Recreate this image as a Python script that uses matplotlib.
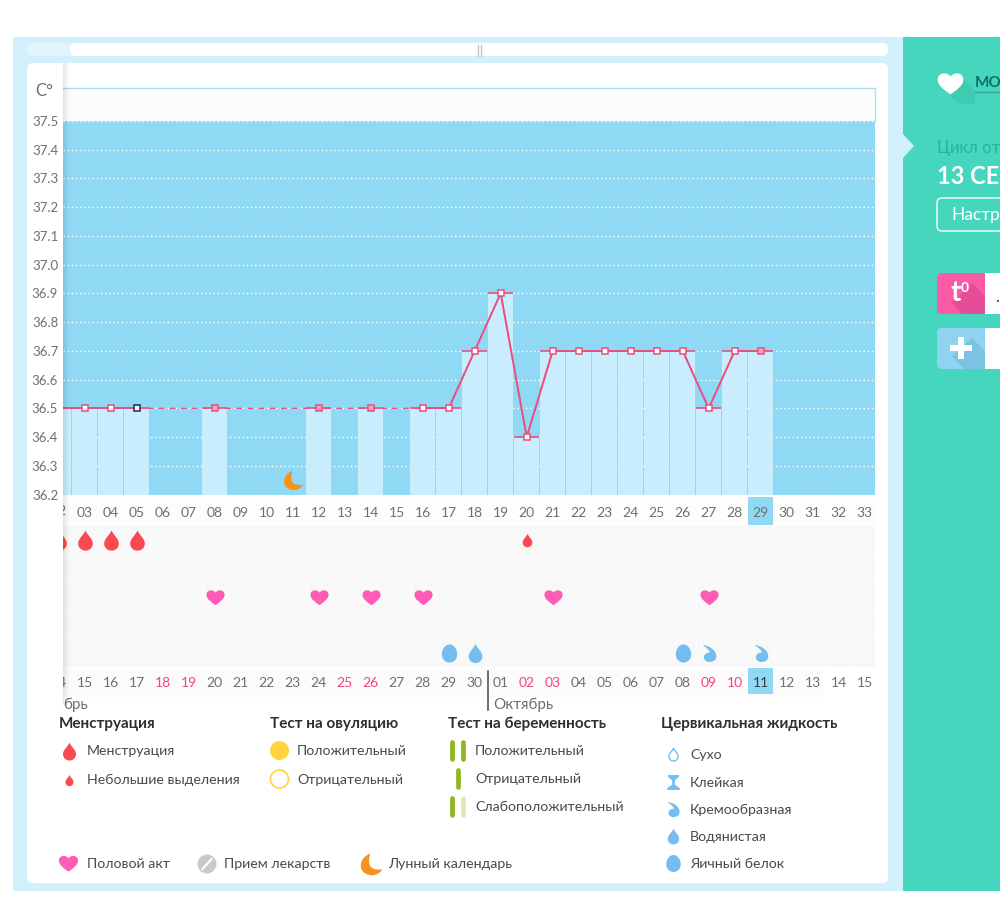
import matplotlib
matplotlib.use("Agg")
import numpy as np
import matplotlib.pyplot as plt
from matplotlib.patches import Rectangle, FancyBboxPatch, Circle, Polygon
from matplotlib.path import Path

plt.rcParams['font.family'] = ['Lato', 'DejaVu Sans']

### DATA
temp_days = [2, 3, 4, 5, 8, 12, 14, 16, 17, 18, 19, 20, 21, 22, 23, 24, 25, 26, 27, 28, 29]
temps = [36.5, 36.5, 36.5, 36.5, 36.5, 36.5, 36.5, 36.5, 36.5, 36.7, 36.9, 36.4,
         36.7, 36.7, 36.7, 36.7, 36.7, 36.7, 36.5, 36.7, 36.7]
black_day = 5
filled_days = [8, 12, 14, 29]
moon_day = 11
moon_temp = 36.25
temp_ticks = [37.5, 37.4, 37.3, 37.2, 37.1, 37.0, 36.9, 36.8, 36.7, 36.6, 36.5, 36.4, 36.3, 36.2]

cycle_days = list(range(2, 34))
dates = ["14", "15", "16", "17", "18", "19", "20", "21", "22", "23", "24", "25", "26", "27", "28",
         "29", "30", "01", "02", "03", "04", "05", "06", "07", "08", "09", "10", "11", "12", "13", "14", "15"]
weekend_dates = [4, 5, 11, 12, 18, 19, 25, 26]  # index into dates, always pink in the strip
today_day = 29
month_break = 18.5

menses_days = [2, 3, 4, 5]
spotting_days = [20]
heart_days = [8, 12, 14, 16, 21, 27]
egg_days = [17, 26]
watery_days = [18]
creamy_days = [27, 29]

BLUE_BG = "#8fd9f5"
BAR = "#c9edfc"
FRAME = "#d2effc"
TEAL = "#45d6bd"
PINK = "#e9507f"
GRAY = "#6f6f6f"
DARK = "#3a3a3a"
RED = "#fb4a4f"
HEART = "#ff5cb6"
DROPBLUE = "#74bdf0"
ORANGE = "#f6931e"
GREEN = "#8fb81f"


### MARKER SHAPES
def make_drop():
    return Path([(0, 1), (0.15, 0.55), (0.72, 0.2), (0.72, -0.3), (0.72, -0.75), (0.35, -1), (0, -1),
                 (-0.35, -1), (-0.72, -0.75), (-0.72, -0.3), (-0.72, 0.2), (-0.15, 0.55), (0, 1)],
                [Path.MOVETO] + [Path.CURVE4] * 12)


def make_heart():
    return Path([(0, -0.85), (-0.5, -0.5), (-1, -0.15), (-1, 0.3), (-1, 0.85), (-0.3, 0.95), (0, 0.55),
                 (0.3, 0.95), (1, 0.85), (1, 0.3), (1, -0.15), (0.5, -0.5), (0, -0.85)],
                [Path.MOVETO] + [Path.CURVE4] * 12)


def make_egg():
    return Path([(0, 1), (0.5, 1), (0.85, 0.45), (0.85, -0.1), (0.85, -0.65), (0.45, -1), (0, -1),
                 (-0.45, -1), (-0.85, -0.65), (-0.85, -0.1), (-0.85, 0.45), (-0.5, 1), (0, 1)],
                [Path.MOVETO] + [Path.CURVE4] * 12)


def make_creamy():
    return Path([(-0.8, 1), (-0.2, 0.95), (0.8, 0.5), (0.8, -0.35), (0.8, -0.8), (0.4, -1), (0, -1),
                 (-0.45, -1), (-0.7, -0.7), (-0.65, -0.35), (-0.6, 0), (-0.2, 0.1), (0.05, 0.1),
                 (0, 0.4), (-0.4, 0.7), (-0.8, 1)],
                [Path.MOVETO] + [Path.CURVE4] * 15)


def make_moon():
    return Path([(-0.1, 1), (-0.75, 0.8), (-1, 0.3), (-1, -0.1), (-1, -0.7), (-0.45, -1), (0.05, -1),
                 (0.5, -1), (0.85, -0.75), (1, -0.45), (0.2, -0.55), (-0.55, -0.35), (-0.1, 1)],
                [Path.MOVETO] + [Path.CURVE4] * 12)


def make_sticky():
    return Path([(-0.75, 1), (0.75, 1), (0.75, 0.75), (0.18, 0.3), (0.18, -0.3), (0.85, -0.75), (0.85, -1),
                 (-0.85, -1), (-0.85, -0.75), (-0.18, -0.3), (-0.18, 0.3), (-0.75, 0.75), (-0.75, 1)])


DROP, HEARTM, EGG, CREAMY, MOON, STICKY = (make_drop(), make_heart(), make_egg(),
                                           make_creamy(), make_moon(), make_sticky())

W, H = 1000, 915
fig = plt.figure(figsize=(W / 100, H / 100), dpi=100, facecolor="white")


def px_axes(x0, y0, x1, y1, z):
    # axes placed with pixel edges, y counted from the top of the picture
    a = fig.add_axes([x0 / W, 1 - y1 / H, (x1 - x0) / W, (y1 - y0) / H], zorder=z)
    a.patch.set_visible(False)
    return a


### PAGE BACKGROUND, CARD, SIDE PANEL
bg = px_axes(0, 0, W, H, 0)
bg.set_xlim(0, W)
bg.set_ylim(H, 0)
bg.axis("off")
bg.autoscale(False)
bg.add_patch(Rectangle((13, 37), 890, 854, fc=FRAME, ec="none"))
bg.add_patch(Rectangle((903, 37), 97, 854, fc=TEAL, ec="none"))
bg.add_patch(FancyBboxPatch((30, 46), 855, 7, boxstyle="round,pad=3,rounding_size=6", fc="#e2f5fd", ec="none"))
bg.add_patch(FancyBboxPatch((73, 46), 812, 7, boxstyle="round,pad=3,rounding_size=6", fc="white", ec="none"))
bg.plot([477.5, 477.5], [45, 56], color="#c4c4c4", lw=1)
bg.plot([480.5, 480.5], [45, 56], color="#c4c4c4", lw=1)
bg.add_patch(FancyBboxPatch((30, 66), 855, 814, boxstyle="round,pad=3,rounding_size=6", fc="white", ec="none"))
bg.add_patch(Rectangle((63, 88), 812, 33, fc="#fdfcfc", ec="none"))
bg.plot([63, 875], [88, 88], color="#a9e3ea", lw=1)
bg.plot([875, 875], [88, 121], color="#a9e3ea", lw=1)
bg.add_patch(Rectangle((63, 497), 812, 28, fc="#fdfdfd", ec="none"))
bg.add_patch(Rectangle((63, 668), 760, 29, fc="#fbfbfb", ec="none"))
bg.text(44, 91, "C°", fontsize=12, color=GRAY, ha="center", va="center")

# side panel
bg.add_patch(Polygon([[903, 134], [914, 146], [903, 158]], fc=FRAME, ec="none"))
bg.add_patch(Polygon([[950, 96], [962, 78], [975, 92], [975, 104], [960, 104]], fc="#3fcab2", ec="none"))
bg.scatter([950], [83], s=340, marker=HEARTM, color="white", linewidths=0, zorder=3)
bg.text(975, 83, "МО", fontsize=11, color="#0d6f66", fontweight="bold", va="center")
bg.plot([975, 1000], [92, 92], color="#2aa595", lw=1)
bg.text(937, 148, "Цикл от", fontsize=12, color="#2bb0a0", va="center")
bg.text(937, 176, "13 СЕ", fontsize=17, color="white", fontweight="bold", va="center")
bg.add_patch(FancyBboxPatch((940, 201), 70, 27, boxstyle="round,pad=3,rounding_size=5", fc="none", ec="white", lw=1))
bg.text(951, 215, "Настр", fontsize=12.5, color="white", va="center")

bg.add_patch(FancyBboxPatch((940, 276), 70, 35, boxstyle="round,pad=3,rounding_size=5", fc="#fb5aa5", ec="none"))
bg.add_patch(Polygon([[952, 303], [972, 283], [985, 296], [985, 314], [962, 314]], fc="#e44e98", ec="none"))
bg.add_patch(Rectangle((985, 273), 15, 41, fc="white", ec="none"))
bg.text(961, 293, "t", fontsize=20, color="white", fontweight="bold", ha="right", va="center")
bg.text(961, 288, "0", fontsize=10, color="white", fontweight="bold", ha="left", va="center")
bg.text(997, 297, ".", fontsize=12, color=DARK, ha="center", va="center")

bg.add_patch(FancyBboxPatch((940, 331), 70, 35, boxstyle="round,pad=3,rounding_size=5", fc="#8fd3f0", ec="none"))
bg.add_patch(Polygon([[952, 356], [972, 338], [985, 351], [985, 369], [964, 369]], fc="#7cc2e2", ec="none"))
bg.add_patch(Rectangle((985, 328), 15, 41, fc="white", ec="none"))
bg.add_patch(Rectangle((950, 345), 22, 6, fc="white", ec="none"))
bg.add_patch(Rectangle((958, 337), 6, 22, fc="white", ec="none"))

XLIM = (2.165, 33.396)

### TEMPERATURE CHART
ax = px_axes(63, 120.8, 875, 494.6, 2)
ax.patch.set_visible(True)
ax.patch.set_facecolor(BLUE_BG)
ax.set_xlim(*XLIM)
ax.set_ylim(36.2, 37.5)
ax.autoscale(False)
for s in ax.spines.values():
    s.set_visible(False)
ax.set_yticks(temp_ticks)
ax.set_yticklabels(["%.1f" % t for t in temp_ticks], fontsize=9.5, color=GRAY)
ax.tick_params(axis="y", length=0, pad=3.5)
ax.set_axisbelow(True)
ax.grid(axis="y", color="white", lw=1, ls=(0, (1, 2)))
ax.set_xticks(cycle_days[1:])
ax.set_xticklabels(["%02d" % d for d in cycle_days[1:]], fontsize=10, color=GRAY)
ax.tick_params(axis="x", length=0, pad=9)

ax.bar(temp_days, [t - 36.2 for t in temps], bottom=36.2, width=0.94, color=BAR, zorder=2)
ax.plot(temp_days, temps, color=PINK, lw=1, ls=(0, (4, 4)), zorder=3)
# solid segments only between neighbouring days
for i in range(len(temp_days) - 1):
    if temp_days[i + 1] - temp_days[i] == 1:
        ax.plot(temp_days[i:i + 2], temps[i:i + 2], color=PINK, lw=1.4, zorder=3)
ax.hlines(temps, [d - 0.48 for d in temp_days], [d + 0.48 for d in temp_days], color=PINK, lw=1.2, zorder=3)
for d, t in zip(temp_days, temps):
    ec = "#222d44" if d == black_day else PINK
    fc = "#f7a6c0" if d in filled_days else "white"
    ax.plot([d], [t], marker="s", ms=4.3, mfc=fc, mec=ec, mew=1.1, zorder=4)
ax.scatter([moon_day], [moon_temp], s=190, marker=MOON, color=ORANGE, linewidths=0, zorder=5)

### DAY STRIP, clipped "02" behind the left panel
strip_top = px_axes(63, 497, 875, 525, 1)
strip_top.set_xlim(*XLIM)
strip_top.set_ylim(0, 1)
strip_top.axis("off")
strip_top.add_patch(Rectangle((today_day - 0.48, 0.0), 0.96, 1.02, fc=BLUE_BG, ec="none"))
strip_top.text(2, 0.5, "02", fontsize=10, color=GRAY, ha="center", va="center", clip_on=True)

### SYMBOL ROWS
sym = px_axes(63, 526, 875, 667, 2)
sym.patch.set_visible(True)
sym.patch.set_facecolor("#f8f8f8")
sym.set_xlim(*XLIM)
sym.set_ylim(4.5, -0.5)
sym.autoscale(False)
for s in sym.spines.values():
    s.set_visible(False)
sym.set_xticks(np.arange(2.5, 33.5, 1))
sym.set_yticks(np.arange(0.5, 4.5, 1))
sym.grid(color="white", lw=1, alpha=0.7)
sym.tick_params(length=0, labelleft=False, labelbottom=False)
sym.scatter(menses_days, [0] * len(menses_days), s=215, marker=DROP, color=RED, linewidths=0, zorder=3)
sym.scatter(spotting_days, [0] * len(spotting_days), s=95, marker=DROP, color=RED, linewidths=0, zorder=3)
sym.scatter(heart_days, [2] * len(heart_days), s=170, marker=HEARTM, color=HEART, linewidths=0, zorder=3)
sym.scatter(egg_days, [4] * len(egg_days), s=170, marker=EGG, color=DROPBLUE, linewidths=0, zorder=3)
sym.scatter(watery_days, [4] * len(watery_days), s=190, marker=DROP, color=DROPBLUE, linewidths=0, zorder=3)
sym.scatter(creamy_days, [4] * len(creamy_days), s=150, marker=CREAMY, color=DROPBLUE, linewidths=0, zorder=3)

### DATE STRIP
strip = px_axes(63, 668, 875, 712, 1)
strip.set_xlim(*XLIM)
strip.set_ylim(44, 0)
strip.axis("off")
strip.autoscale(False)
strip.add_patch(Rectangle((today_day - 0.48, 0), 0.96, 26, fc=BLUE_BG, ec="none"))
for i, (d, lab) in enumerate(zip(cycle_days, dates)):
    col = "#f0457c" if i in weekend_dates else (DARK if d == today_day else GRAY)
    strip.text(d, 15, lab, fontsize=10, color=col, ha="center", va="center", clip_on=True)
strip.plot([month_break, month_break], [3, 42], color="#555555", lw=1.2)
strip.text(2.165, 36.5, "брь", fontsize=11, color=GRAY, va="center", clip_on=True)
strip.text(month_break + 0.2, 36.5, "Октябрь", fontsize=11, color=GRAY, va="center")

### LEFT PANEL SHADOW
shadow = px_axes(63, 63, 70, 705, 3)
shadow.axis("off")
shade = np.zeros((1, 32, 4))
shade[0, :, 3] = np.linspace(0.1, 0, 32)
shadow.imshow(shade, aspect="auto", extent=(0, 1, 0, 1))

### LEGEND
head = dict(fontsize=10.95, fontweight="bold", color="#2f2f2f", va="center")
item = dict(fontsize=10.15, color="#4a4a4a", va="center")
lg = px_axes(0, 0, W, H, 4)
lg.set_xlim(0, W)
lg.set_ylim(H, 0)
lg.axis("off")
lg.autoscale(False)
lg.text(59, 724, "Менструация", **head)
lg.text(270, 724, "Тест на овуляцию", **head)
lg.text(448, 724, "Тест на беременность", **head)
lg.text(661, 724, "Цервикальная жидкость", **head)

lg.scatter([69], [751], s=170, marker=DROP, color=RED, linewidths=0)
lg.text(87, 751, "Менструация", **item)
lg.scatter([69], [780], s=65, marker=DROP, color=RED, linewidths=0)
lg.text(87, 780, "Небольшие выделения", **item)

lg.add_patch(Circle((279.5, 750.5), 9.5, fc="#ffd43f", ec="none"))
lg.text(297, 751, "Положительный", **item)
lg.add_patch(Circle((279.5, 779), 9, fc="white", ec="#ffd43f", lw=1.2))
lg.text(297, 780, "Отрицательный", **item)

for xs, y, lab, fade in [([452, 463], 750, "Положительный", False),
                         ([458], 778, "Отрицательный", False),
                         ([452, 463], 806, "Слабоположительный", True)]:
    for k, x in enumerate(xs):
        c = "#dfe9b8" if (fade and k == 1) else GREEN
        lg.plot([x, x], [y - 8.5, y + 8.5], color=c, lw=3.4, solid_capstyle="round")
    lg.text(475, y + 1, lab, **item)

lg.scatter([673], [754], s=85, marker=DROP, facecolors="white", edgecolors=DROPBLUE, linewidths=1)
lg.text(690, 755, "Сухо", **item)
lg.scatter([673], [782], s=115, marker=STICKY, color=DROPBLUE, linewidths=0)
lg.text(690, 783, "Клейкая", **item)
lg.scatter([673], [809], s=120, marker=CREAMY, color=DROPBLUE, linewidths=0)
lg.text(690, 810, "Кремообразная", **item)
lg.scatter([673], [836], s=130, marker=DROP, color=DROPBLUE, linewidths=0)
lg.text(690, 837, "Водянистая", **item)
lg.scatter([673], [863], s=150, marker=EGG, color=DROPBLUE, linewidths=0)
lg.text(690, 864, "Яичный белок", **item)

lg.scatter([68], [863], s=190, marker=HEARTM, color=HEART, linewidths=0)
lg.text(87, 864, "Половой акт", **item)
lg.add_patch(Circle((207, 864), 9.5, fc="#c9c9c9", ec="none"))
lg.plot([202.5, 211.5], [869, 859], color="white", lw=1.6)
lg.text(224, 864, "Прием лекарств", **item)
lg.scatter([371], [864], s=240, marker=MOON, color=ORANGE, linewidths=0)
lg.text(388, 864, "Лунный календарь", **item)

fig.savefig("out.png", dpi=100)
